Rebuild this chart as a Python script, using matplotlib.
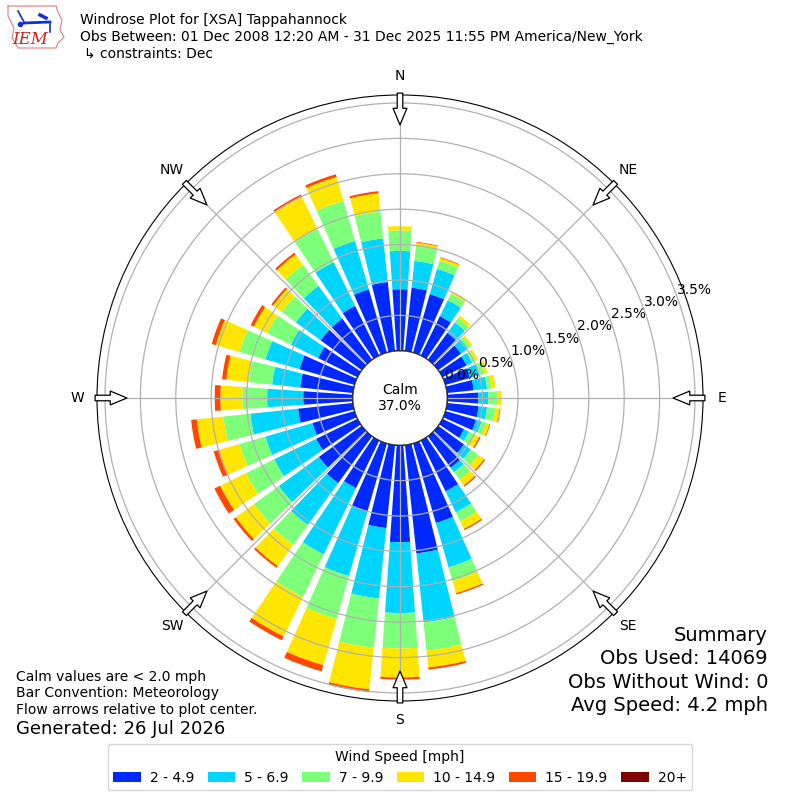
import numpy as np
import matplotlib
matplotlib.use("Agg")
import matplotlib.pyplot as plt
from matplotlib.patches import Circle

# wind directions (deg, meteorological) and frequency (%) per speed class
directions = list(range(0, 360, 10))
speed_labels = ["2 - 4.9", "5 - 6.9", "7 - 9.9", "10 - 14.9", "15 - 19.9", "20+"]

spd_2_5 = [0.87, 0.90, 0.86, 0.62, 0.47, 0.40, 0.38, 0.36, 0.38, 0.44,
           0.45, 0.45, 0.34, 0.45, 0.55, 0.80, 1.17, 1.54, 1.37, 1.18,
           1.00, 0.75, 0.82, 0.75, 0.65, 0.62, 0.78, 0.70, 0.75, 0.81,
           0.62, 0.72, 0.72, 0.78, 0.93, 0.98]
spd_5_7 = [0.54, 0.38, 0.37, 0.25, 0.18, 0.12, 0.09, 0.14, 0.19, 0.14,
           0.12, 0.08, 0.08, 0.12, 0.08, 0.33, 0.65, 0.98, 1.00, 1.00,
           0.95, 1.04, 0.73, 0.70, 0.66, 0.69, 0.68, 0.51, 0.40, 0.50,
           0.43, 0.43, 0.57, 0.69, 0.71, 0.62]
spd_7_10 = [0.29, 0.22, 0.12, 0.10, 0.08, 0.05, 0.05, 0.07, 0.06, 0.13,
            0.12, 0.07, 0.08, 0.13, 0.13, 0.14, 0.20, 0.40, 0.50, 0.70,
            0.63, 0.67, 0.35, 0.43, 0.44, 0.38, 0.38, 0.35, 0.33, 0.38,
            0.37, 0.25, 0.37, 0.52, 0.59, 0.38]
spd_10_15 = [0.06, 0.04, 0.04, 0.03, 0.04, 0.03, 0.04, 0.05, 0.06, 0.06,
             0.06, 0.05, 0.08, 0.10, 0.10, 0.12, 0.18, 0.24, 0.41, 0.59,
             0.68, 0.62, 0.37, 0.32, 0.41, 0.30, 0.38, 0.31, 0.32, 0.35,
             0.21, 0.15, 0.18, 0.51, 0.35, 0.26]
spd_15_20 = [0.00, 0.01, 0.01, 0.00, 0.00, 0.00, 0.00, 0.00, 0.00, 0.00,
             0.01, 0.01, 0.02, 0.02, 0.02, 0.02, 0.02, 0.03, 0.03, 0.04,
             0.09, 0.06, 0.03, 0.04, 0.09, 0.08, 0.08, 0.08, 0.06, 0.06,
             0.05, 0.03, 0.03, 0.03, 0.04, 0.03]
spd_20p = [0.0] * 36

calm_pct = 37.0
rings = [0.0, 0.5, 1.0, 1.5, 2.0, 2.5, 3.0, 3.5]
compass = ["N", "NE", "E", "SE", "S", "SW", "W", "NW"]

classes = [spd_2_5, spd_5_7, spd_7_10, spd_10_15, spd_15_20, spd_20p]
colors = plt.cm.jet(np.arange(1, 7) / 6.0)

fig = plt.figure(figsize=(8, 8), dpi=100)
ax = fig.add_axes([0.12125, 0.12375, 0.7575, 0.7575], projection="polar")
ax.set_theta_zero_location("N")
ax.set_theta_direction(-1)

theta = np.radians(directions)
bottom = np.zeros(len(directions))
handles = []
for vals, col, lab in zip(classes, colors, speed_labels):
    b = ax.bar(theta, vals, width=np.radians(8), bottom=bottom,
               color=col, label=lab, zorder=1)
    handles.append(b)
    bottom = bottom + np.array(vals)

ax.set_ylim(0, 3.613)
ax.set_rorigin(-0.667)
ax.set_axisbelow(False)
ax.set_rgrids(rings, labels=["%.1f%%" % r for r in rings], angle=70, fontsize=10)
ax.set_thetagrids(range(0, 360, 45), labels=compass, fontsize=10)
ax.tick_params(axis="x", length=0, pad=7)
ax.grid(True, color="#b0b0b0", lw=0.9)

# flow arrows at compass points
for ang in range(0, 360, 45):
    ax.annotate("", xy=(np.radians(ang), 3.19), xytext=(np.radians(ang), 3.64),
                arrowprops=dict(arrowstyle="simple,head_length=1.2,head_width=1.0,tail_width=0.4",
                                fc="white", ec="black", lw=0.9, shrinkA=0, shrinkB=0),
                annotation_clip=False, zorder=6)

calm = Circle((0.5, 0.5), 47.2 / 606, transform=ax.transAxes, fc="white",
              ec="black", lw=1, zorder=5)
ax.add_patch(calm)
ax.text(0.5, 0.5, "Calm\n%.1f%%" % calm_pct, transform=ax.transAxes,
        ha="center", va="center", fontsize=10, zorder=7)

# IEM logo (rough)
lg = fig.add_axes([0, 0.9375, 0.09375, 0.0625])
lg.set_xlim(0, 75)
lg.set_ylim(50, 0)
lg.axis("off")
lg.plot([8, 56, 58, 62, 60, 64, 58, 56, 18, 12, 14, 8, 8],
        [6, 6, 12, 20, 30, 37, 43, 48, 48, 38, 28, 16, 6], color="#e87a7a", lw=0.8)
lg.plot([18, 24], [11, 22], color="#1030d0", lw=1.2)
lg.plot([24, 50], [23, 22], color="#1030d0", lw=2)
lg.plot([40, 46], [15, 18], color="#1030d0", lw=2.5)
lg.plot([50, 50], [24, 32], color="#1030d0", lw=1.2)
lg.plot([20], [24], marker="o", ms=3, color="#1030d0")
lg.text(30, 39, "IEM", fontsize=12, color="#d42020", style="italic",
        family="DejaVu Serif", ha="center", va="center")

# header
fig.text(0.1, 0.975, "Windrose Plot for [XSA] Tappahannock", fontsize=10, va="center")
fig.text(0.1, 0.954, "Obs Between: 01 Dec 2008 12:20 AM - 31 Dec 2025 11:55 PM America/New_York",
         fontsize=10, va="center")
fig.text(0.105, 0.933, "\u21b3 constraints: Dec", fontsize=10, va="center")

# notes
fig.text(0.02, 0.154, "Calm values are < 2.0 mph", fontsize=10, va="center")
fig.text(0.02, 0.134, "Bar Convention: Meteorology", fontsize=10, va="center")
fig.text(0.02, 0.113, "Flow arrows relative to plot center.", fontsize=10, va="center")
fig.text(0.02, 0.089, "Generated: 26 Jul 2026", fontsize=13, va="center")

summary = ["Summary", "Obs Used: 14069", "Obs Without Wind: 0", "Avg Speed: 4.2 mph"]
for i, s in enumerate(summary):
    fig.text(0.96, 0.206 - i * 0.0293, s, fontsize=14, ha="right", va="center")

fig.legend(handles=handles, labels=speed_labels, loc="lower center",
           bbox_to_anchor=(0.5, 0.012), borderaxespad=0, ncol=6,
           columnspacing=0.95, handletextpad=0.65,
           title="Wind Speed [mph]", fontsize=10, title_fontsize=10)

fig.savefig("out.png", dpi=100)
